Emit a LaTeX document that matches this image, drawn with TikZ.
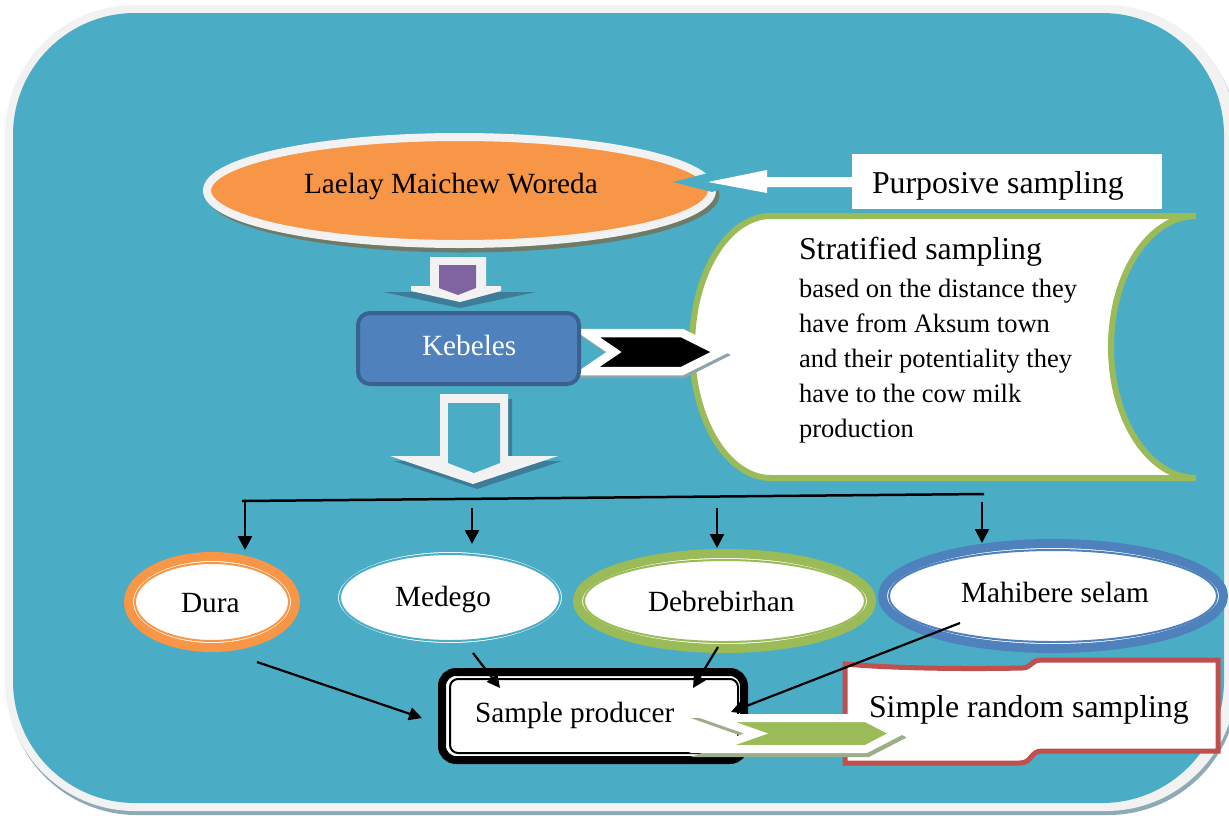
\documentclass[tikz,border=0pt]{standalone}
\usepackage{fontspec}
\setmainfont{Liberation Serif}
\usetikzlibrary{shapes.geometric,arrows.meta,calc}
\definecolor{bgblue}{HTML}{4BACC6}
\definecolor{frame}{HTML}{F2F2F2}
\definecolor{frameshadow}{HTML}{8EAAB4}
\definecolor{orng}{HTML}{F79646}
\definecolor{ellshadow}{HTML}{6E7B68}
\definecolor{purp}{HTML}{8064A2}
\definecolor{kebfill}{HTML}{4F81BD}
\definecolor{kebline}{HTML}{3A6190}
\definecolor{grn}{HTML}{9BBB59}
\definecolor{rd}{HTML}{C0504D}
\definecolor{blu}{HTML}{4F81BD}
\definecolor{arrshadow}{HTML}{3D7D98}
\definecolor{chevshadow}{HTML}{8FA3AA}
\definecolor{gchevshadow}{HTML}{9DAE8A}
\newcommand{\fsbig}{\fontsize{31.8}{36}\selectfont}
\newcommand{\fsmain}{\fontsize{29.3}{35}\selectfont}
\newcommand{\fsbody}{\fontsize{26.5}{35}\selectfont}
\begin{document}
\begin{tikzpicture}[x=1pt,y=-1pt,
  lbl/.style={anchor=base west, inner sep=0pt, outer sep=0pt, font=\fsmain},
  ell/.style={ellipse, fill=white, line width=9pt, inner sep=0pt},
  conn/.style={line width=2.2pt, -{Triangle[length=13pt,width=13pt]}},
  drop/.style={line width=2.5pt, -{Triangle[length=14pt,width=14pt]}},
  chev/.style={draw=white, line width=8.5pt, line join=miter, miter limit=20},
  chevsh/.style={line width=8pt, line join=miter, miter limit=20}]
\useasboundingbox (0,0) rectangle (1229,815);
% background
\fill[frameshadow, rounded corners=130pt] (7,9) rectangle (1238,815);
\fill[frame, rounded corners=130pt] (5,5) rectangle (1236,811);
\fill[bgblue, rounded corners=122pt] (13,13) rectangle (1224,803);

% top ellipse
\fill[ellshadow] (463,195) ellipse [x radius=256.5pt, y radius=57.5pt];
\node[ellipse, draw=frame, fill=orng, line width=8pt, inner sep=0pt,
  minimum width=505pt, minimum height=107pt] (woreda) at (459.5,190.5) {};
\node[lbl] (woredatxt) at (304,193) {Laelay Maichew Woreda};

% purposive arrow
\node[fill=white, inner sep=0pt, minimum width=310pt, minimum height=55pt] (purp) at (1007,181.5) {};
\node[lbl, font=\fsbig] (purptxt) at (872,193) {Purposive sampling};
\fill[bgblue] (673,182) -- (712,172) -- (745,182) -- (712,192) -- cycle;
\fill[white] (708,182) -- (767,170) -- (767,177) -- (purp.west |- 0,177) -- (purp.west |- 0,187) -- (767,187) -- (767,193) -- cycle;

% first down arrow (purple)
\fill[arrshadow] (383,292) -- (536,292) -- (460,308) -- cycle;
\fill[frame] (430,257) -- (486,257) -- (486,286) -- (501,286) -- (501,291) -- (460,302) -- (411,291) -- (411,286) -- (430,286) -- cycle;
\fill[purp] (439,265) -- (476,265) -- (476,288) -- (458,295) -- (439,288) -- cycle;

% stratified sampling shape
\draw[grn, line width=6pt, fill=white]
  (771,216) -- (1196,216)
  .. controls (1149,216) and (1111,274.6) .. (1111,347)
  .. controls (1111,419.4) and (1149,478) .. (1196,478)
  -- (771,478)
  .. controls (727.4,478) and (692,419.4) .. (692,347)
  .. controls (692,274.6) and (727.4,216) .. cycle;
\node[lbl, font=\fsbig] (st0) at (799,259) {Stratified sampling};
\node[lbl, font=\fsbody] (st1) at (799,297) {based on the distance they};
\node[lbl, font=\fsbody] (st2) at (799,332) {have from Aksum town};
\node[lbl, font=\fsbody] (st3) at (799,367) {and their potentiality they};
\node[lbl, font=\fsbody] (st4) at (799,402) {have to the cow milk};
\node[lbl, font=\fsbody] (st5) at (799,437) {production};

% black chevron
\filldraw[chevshadow, chevsh] (588,336) -- (684,336) -- (722,355) -- (684,374) -- (588,374) -- (616,355) -- cycle;
\filldraw[chev, fill=black] (586,333) -- (682,333) -- (720,352) -- (682,371) -- (586,371) -- (614,352) -- cycle;

% Kebeles
\node[rectangle, rounded corners=12pt, draw=kebline, fill=kebfill, line width=4pt,
  minimum width=221pt, minimum height=71pt, inner sep=0pt] (keb) at (468.5,348.5) {};
\node[lbl, text=white] (kebtxt) at (422,355) {Kebeles};

% hollow down arrow
\fill[arrshadow] (444,399) -- (512,399) -- (512,461) -- (562,461) -- (477,489) -- (394,461) -- (444,461) -- cycle;
\fill[frame] (440,394) -- (508,394) -- (508,456) -- (558,456) -- (473,484) -- (390,456) -- (440,456) -- cycle;
\fill[bgblue] (448,403) -- (500,403) -- (500,463) -- (474,473) -- (448,463) -- cycle;

% distribution line
\coordinate (hl) at (242,501);
\coordinate (hr) at (984,494);
\draw[line width=2.5pt] (hl) -- (hr);
\coordinate (a1s) at (245,501); \coordinate (a1e) at (245,550);
\coordinate (a2s) at (472,508); \coordinate (a2e) at (472,544);
\coordinate (a3s) at (717,508); \coordinate (a3e) at (717,548);
\coordinate (a4s) at (982,502); \coordinate (a4e) at (982,543);
\draw[drop] (a1s) -- (a1e);
\draw[drop] (a2s) -- (a2e);
\draw[drop] (a3s) -- (a3e);
\draw[drop] (a4s) -- (a4e);

% ellipses
\node[ell, draw=orng, minimum width=167pt, minimum height=91pt] (dura) at (212,602) {};
\draw[orng, line width=2pt] (dura.center) ellipse [x radius=77pt, y radius=39pt];
\node[lbl] (duratxt) at (181,612) {Dura};

\node[ell, draw=bgblue, minimum width=233pt, minimum height=100pt] (medego) at (450,597.5) {};
\draw[bgblue, line width=2pt] (medego.center) ellipse [x radius=110pt, y radius=43.5pt];
\node[lbl] (medegotxt) at (395,606) {Medego};

\node[ell, draw=grn, minimum width=294pt, minimum height=95pt] (debre) at (724.5,601) {};
\draw[grn, line width=2pt] (debre.center) ellipse [x radius=140.5pt, y radius=41pt];
\node[lbl] (debretxt) at (648,611) {Debrebirhan};

\node[ell, draw=blu, minimum width=341pt, minimum height=105pt] (mahi) at (1053,596) {};
\draw[blu, line width=2pt] (mahi.center) ellipse [x radius=164pt, y radius=46pt];
\node[lbl] (mahitxt) at (961,602) {Mahibere selam};

% simple random sampling shape
\draw[rd, line width=5pt, fill=white, line join=miter]
  (845,664) .. controls (900,669) and (980,669) .. (1022,668)
  .. controls (1032,668) and (1030,660) .. (1042,660)
  -- (1218,660) -- (1218,751) -- (1042,751)
  .. controls (1030,751) and (1032,763) .. (1020,763)
  -- (845,763) -- cycle;
\node[lbl, font=\fsbig] (srstxt) at (869,717) {Simple random sampling};

% sample producer
\node[rectangle, rounded corners=14pt, draw=black, fill=white, line width=8pt,
  minimum width=302pt, minimum height=88pt, inner sep=0pt] (sp) at (593,716) {};
\draw[line width=2pt, rounded corners=8pt] (450,679) rectangle (738,753);
\node[lbl] (sptxt) at (475,722) {Sample producer};

% connectors to sample producer
\coordinate (c1s) at (257,662); \coordinate (c1e) at (422,718);
\coordinate (c2s) at (473,653); \coordinate (c2e) at (500,688);
\coordinate (c3s) at (718,647); \coordinate (c3e) at (693,688);
\coordinate (c4s) at (960,623); \coordinate (c4e) at (731,712);
\draw[conn] (c1s) -- (c1e);
\draw[conn] (c2s) -- (c2e);
\draw[conn] (c3s) -- (c3e);
\draw[conn] (c4s) -- (c4e);

% green chevron
\filldraw[gchevshadow, chevsh] (714,722) -- (868,722) -- (898,737.5) -- (868,753) -- (714,753) -- (758,737.5) -- cycle;
\filldraw[chev, line width=8pt, fill=grn] (712,718) -- (866,718) -- (896,733.5) -- (866,749) -- (712,749) -- (756,733.5) -- cycle;
\end{tikzpicture}
\end{document}
